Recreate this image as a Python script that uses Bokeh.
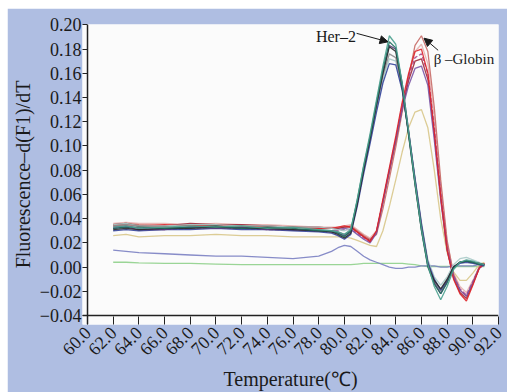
import math
from bokeh.plotting import figure
from bokeh.models import (FixedTicker, Span, Arrow, NormalHead, Label, Range1d)
from bokeh.embed import file_html
from bokeh.resources import INLINE

# ---------------- data ----------------
temps = [62.0, 63.0, 64.0, 66.0, 68.0, 70.0, 72.0, 74.0, 76.0, 78.0, 79.0, 79.5,
         80.0, 80.5, 81.0, 81.5, 82.0, 82.5, 83.0, 83.5, 84.0, 84.5, 85.0, 85.5,
         86.0, 86.5, 87.0, 87.5, 88.0, 88.5, 89.0, 89.5, 90.0, 90.5, 90.9]

# Her-2 group
her2_teal = [0.033, 0.034, 0.032, 0.033, 0.034, 0.033, 0.034, 0.032, 0.033, 0.031, 0.030, 0.029,
             0.027, 0.031, 0.056, 0.084, 0.110, 0.138, 0.166, 0.191, 0.184, 0.152, 0.112, 0.070,
             0.032, 0.002, -0.016, -0.027, -0.016, -0.002, 0.004, 0.006, 0.005, 0.003, 0.002]
her2_darkteal = [0.032, 0.033, 0.033, 0.032, 0.033, 0.034, 0.032, 0.033, 0.032, 0.030, 0.030, 0.028,
                 0.025, 0.030, 0.055, 0.083, 0.108, 0.136, 0.163, 0.186, 0.181, 0.150, 0.110, 0.069,
                 0.030, 0.000, -0.014, -0.022, -0.013, -0.001, 0.004, 0.005, 0.004, 0.002, 0.002]
her2_grey = [0.034, 0.035, 0.034, 0.033, 0.032, 0.033, 0.033, 0.032, 0.031, 0.031, 0.030, 0.029,
             0.027, 0.030, 0.053, 0.080, 0.105, 0.132, 0.158, 0.176, 0.173, 0.148, 0.110, 0.071,
             0.033, 0.003, -0.012, -0.020, -0.011, 0.000, 0.004, 0.005, 0.004, 0.003, 0.002]
her2_lightgrey = [0.035, 0.036, 0.034, 0.034, 0.035, 0.035, 0.034, 0.034, 0.033, 0.033, 0.032, 0.031,
                  0.030, 0.032, 0.054, 0.080, 0.104, 0.130, 0.155, 0.172, 0.170, 0.147, 0.112, 0.074,
                  0.037, 0.006, -0.008, -0.015, -0.008, 0.002, 0.007, 0.008, 0.006, 0.004, 0.002]
her2_black = [0.031, 0.032, 0.031, 0.032, 0.032, 0.033, 0.032, 0.032, 0.031, 0.030, 0.029, 0.027,
              0.024, 0.028, 0.052, 0.080, 0.106, 0.134, 0.160, 0.182, 0.178, 0.149, 0.109, 0.068,
              0.031, 0.001, -0.011, -0.018, -0.010, 0.000, 0.004, 0.005, 0.004, 0.003, 0.002]
her2_violet = [0.032, 0.033, 0.031, 0.031, 0.033, 0.032, 0.033, 0.031, 0.031, 0.030, 0.029, 0.028,
               0.026, 0.029, 0.053, 0.081, 0.107, 0.134, 0.161, 0.183, 0.180, 0.152, 0.113, 0.072,
               0.034, 0.003, -0.013, -0.022, -0.012, 0.000, 0.004, 0.005, 0.004, 0.002, 0.002]
her2_navy = [0.030, 0.031, 0.030, 0.031, 0.031, 0.032, 0.031, 0.031, 0.030, 0.029, 0.028, 0.026,
             0.023, 0.027, 0.050, 0.077, 0.102, 0.128, 0.152, 0.168, 0.167, 0.146, 0.111, 0.073,
             0.036, 0.004, -0.010, -0.019, -0.011, 0.000, 0.003, 0.004, 0.003, 0.002, 0.001]

# beta-Globin group
glob_rose = [0.035, 0.036, 0.035, 0.034, 0.035, 0.034, 0.034, 0.034, 0.033, 0.032, 0.032, 0.032,
             0.033, 0.034, 0.030, 0.026, 0.023, 0.027, 0.048, 0.073, 0.099, 0.128, 0.157, 0.183,
             0.191, 0.178, 0.132, 0.072, 0.022, -0.006, -0.019, -0.024, -0.013, 0.000, 0.003]
glob_red = [0.034, 0.035, 0.034, 0.035, 0.034, 0.035, 0.034, 0.033, 0.033, 0.032, 0.032, 0.033,
            0.034, 0.033, 0.029, 0.025, 0.021, 0.030, 0.056, 0.082, 0.108, 0.136, 0.160, 0.178,
            0.180, 0.160, 0.112, 0.058, 0.014, -0.010, -0.022, -0.028, -0.015, -0.001, 0.003]
glob_pink = [0.036, 0.037, 0.036, 0.036, 0.035, 0.036, 0.035, 0.035, 0.034, 0.033, 0.033, 0.033,
             0.034, 0.035, 0.031, 0.027, 0.024, 0.030, 0.053, 0.078, 0.104, 0.132, 0.158, 0.178,
             0.184, 0.168, 0.124, 0.068, 0.020, -0.005, -0.016, -0.021, -0.011, 0.000, 0.003]
glob_purple = [0.033, 0.034, 0.032, 0.032, 0.033, 0.033, 0.032, 0.032, 0.031, 0.030, 0.030, 0.031,
               0.032, 0.031, 0.027, 0.023, 0.020, 0.028, 0.054, 0.080, 0.105, 0.130, 0.150, 0.164,
               0.166, 0.150, 0.105, 0.055, 0.014, -0.008, -0.019, -0.024, -0.013, -0.001, 0.002]
glob_magenta = [0.032, 0.033, 0.032, 0.031, 0.032, 0.033, 0.032, 0.031, 0.031, 0.030, 0.029, 0.030,
                0.031, 0.031, 0.028, 0.024, 0.021, 0.029, 0.054, 0.080, 0.106, 0.134, 0.157, 0.173,
                0.176, 0.160, 0.116, 0.062, 0.017, -0.007, -0.018, -0.023, -0.012, 0.000, 0.002]
glob_darkred = [0.035, 0.036, 0.034, 0.034, 0.036, 0.035, 0.035, 0.034, 0.033, 0.033, 0.032, 0.032,
                0.033, 0.033, 0.029, 0.025, 0.022, 0.029, 0.054, 0.079, 0.104, 0.131, 0.154, 0.170,
                0.172, 0.155, 0.110, 0.058, 0.015, -0.009, -0.021, -0.026, -0.014, -0.001, 0.003]

yellow_curve = [0.026, 0.027, 0.025, 0.026, 0.026, 0.027, 0.026, 0.026, 0.025, 0.025, 0.025, 0.025,
                0.025, 0.024, 0.022, 0.020, 0.018, 0.017, 0.030, 0.050, 0.072, 0.095, 0.115, 0.128,
                0.130, 0.115, 0.080, 0.040, 0.012, -0.004, -0.011, -0.011, -0.005, 0.002, 0.004]
blue_curve = [0.014, 0.013, 0.012, 0.011, 0.010, 0.009, 0.009, 0.008, 0.007, 0.009, 0.013, 0.016,
              0.018, 0.017, 0.013, 0.009, 0.006, 0.004, 0.002, 0.000, -0.001, -0.001, 0.000, 0.000,
              0.001, 0.001, 0.001, 0.000, 0.000, 0.001, 0.001, 0.001, 0.001, 0.002, 0.002]
green_curve = [0.004, 0.004, 0.0035, 0.003, 0.003, 0.0025, 0.002, 0.002, 0.002, 0.002, 0.002, 0.002,
               0.002, 0.002, 0.0025, 0.003, 0.003, 0.003, 0.003, 0.003, 0.003, 0.003, 0.0025, 0.002,
               0.001, 0.0005, 0.0005, 0.0005, 0.0005, 0.0005, 0.0005, 0.0005, 0.0005, 0.0005, 0.0005]

x_ticks = [60.0, 62.0, 64.0, 66.0, 68.0, 70.0, 72.0, 74.0, 76.0, 78.0, 80.0, 82.0, 84.0, 86.0, 88.0, 90.0, 92.0]
x_tick_labels = ["60.0", "62.0", "64.0", "66.0", "68.0", "70.0", "72.0", "74.0", "76.0", "78.0",
                 "80.0", "82.0", "84.0", "86.0", "88.0", "90.0", "92.0"]
y_ticks = [-0.04, -0.02, 0.0, 0.02, 0.04, 0.06, 0.08, 0.1, 0.12, 0.14, 0.16, 0.18, 0.2]
y_tick_labels = ["\u22120.04", "\u22120.02", "0.00", "0.02", "0.04", "0.06", "0.08", "0.10",
                 "0.12", "0.14", "0.16", "0.18", "0.20"]

her2_label = "Her\u20132"
her2_label_pos = (80.9, 0.190)
her2_arrow = (80.95, 0.193, 83.4, 0.186)
glob_label = "\u03b2 \u2013Globin"
glob_label_pos = (86.95, 0.172)
glob_arrow = (87.3, 0.179, 86.2, 0.189)

# ---------------- figure ----------------
FONT = "Liberation Serif"
BG = "#afbee2"

p = figure(width=500, height=384, output_backend="svg", toolbar_location=None,
           x_range=Range1d(59.61, 92.0), y_range=Range1d(-0.0474, 0.2003),
           min_border_left=75, min_border_top=16, min_border_right=9, min_border_bottom=65)
p.margin = (8, 0, 0, 7)
p.background_fill_color = "#fbfbfb"
p.border_fill_color = BG
p.outline_line_color = None
p.grid.visible = False

series = [
    (green_curve, "#8fd08b", None),
    (blue_curve, "#7a7fc2", None),
    (yellow_curve, "#d8c78a", None),
    (glob_pink, "#e6b0ae", None),
    (glob_rose, "#c86a66", None),
    (glob_darkred, "#9c2a3a", None),
    (glob_magenta, "#a8478c", "4 2"),
    (glob_purple, "#7b55a5", None),
    (glob_red, "#de2228", None),
    (her2_lightgrey, "#a8cac8", None),
    (her2_grey, "#8e8e8e", None),
    (her2_navy, "#35449a", None),
    (her2_violet, "#5b3b78", None),
    (her2_black, "#2a2a2a", None),
    (her2_darkteal, "#1f6e5e", None),
    (her2_teal, "#4aa08e", None),
]
for ys, col, dash in series:
    kw = dict(line_color=col, line_width=1.3, line_alpha=0.9)
    if dash:
        kw["line_dash"] = dash
    p.line(temps, ys, **kw)

# axis lines inside the white area
p.add_layout(Span(location=x_ticks[0], dimension="height", line_color="#222222", line_width=1.5))
p.add_layout(Span(location=y_ticks[0], dimension="width", line_color="#222222", line_width=1.5))

# axes
xa = p.xaxis[0]
xa.ticker = FixedTicker(ticks=x_ticks)
xa.major_label_overrides = {t: l for t, l in zip(x_ticks, x_tick_labels)}
xa.major_label_orientation = math.pi / 4
xa.axis_line_color = None
xa.major_tick_in = 8
xa.major_tick_out = 0
xa.minor_tick_line_color = None
xa.major_tick_line_color = "#222222"
xa.major_label_standoff = 5
xa.axis_label = "Temperature(\u2103)"
xa.axis_label_standoff = 4

ya = p.yaxis[0]
ya.ticker = FixedTicker(ticks=y_ticks)
ya.major_label_overrides = {t: l for t, l in zip(y_ticks, y_tick_labels)}
ya.axis_line_color = None
ya.major_tick_in = 5
ya.major_tick_out = 0
ya.minor_tick_line_color = None
ya.major_tick_line_color = "#222222"
ya.major_label_standoff = 1
ya.axis_label = "Fluorescence\u2013d(F1)/dT"
ya.axis_label_standoff = 3

for ax in (xa, ya):
    ax.major_label_text_font = FONT
    ax.major_label_text_font_size = "18px"
    ax.major_label_text_color = "#1a1a1a"
    ax.axis_label_text_font = FONT
    ax.axis_label_text_font_size = "20px"
    ax.axis_label_text_font_style = "normal"
    ax.axis_label_text_color = "#1a1a1a"

# annotations
p.add_layout(Label(x=her2_label_pos[0], y=her2_label_pos[1], text=her2_label,
                   text_align="right", text_baseline="middle", text_font=FONT,
                   text_font_size="16px", text_color="#1a1a1a"))
p.add_layout(Arrow(x_start=her2_arrow[0], y_start=her2_arrow[1], x_end=her2_arrow[2], y_end=her2_arrow[3],
                   line_color="#1a1a1a", line_width=1,
                   end=NormalHead(size=8, fill_color="#1a1a1a", line_color="#1a1a1a")))
p.add_layout(Label(x=glob_label_pos[0], y=glob_label_pos[1], text=glob_label,
                   text_align="left", text_baseline="middle", text_font=FONT,
                   text_font_size="15px", text_color="#1a1a1a"))
p.add_layout(Arrow(x_start=glob_arrow[0], y_start=glob_arrow[1], x_end=glob_arrow[2], y_end=glob_arrow[3],
                   line_color="#1a1a1a", line_width=1,
                   end=NormalHead(size=8, fill_color="#1a1a1a", line_color="#1a1a1a")))

open("out.html", "w").write(file_html(p, INLINE))
